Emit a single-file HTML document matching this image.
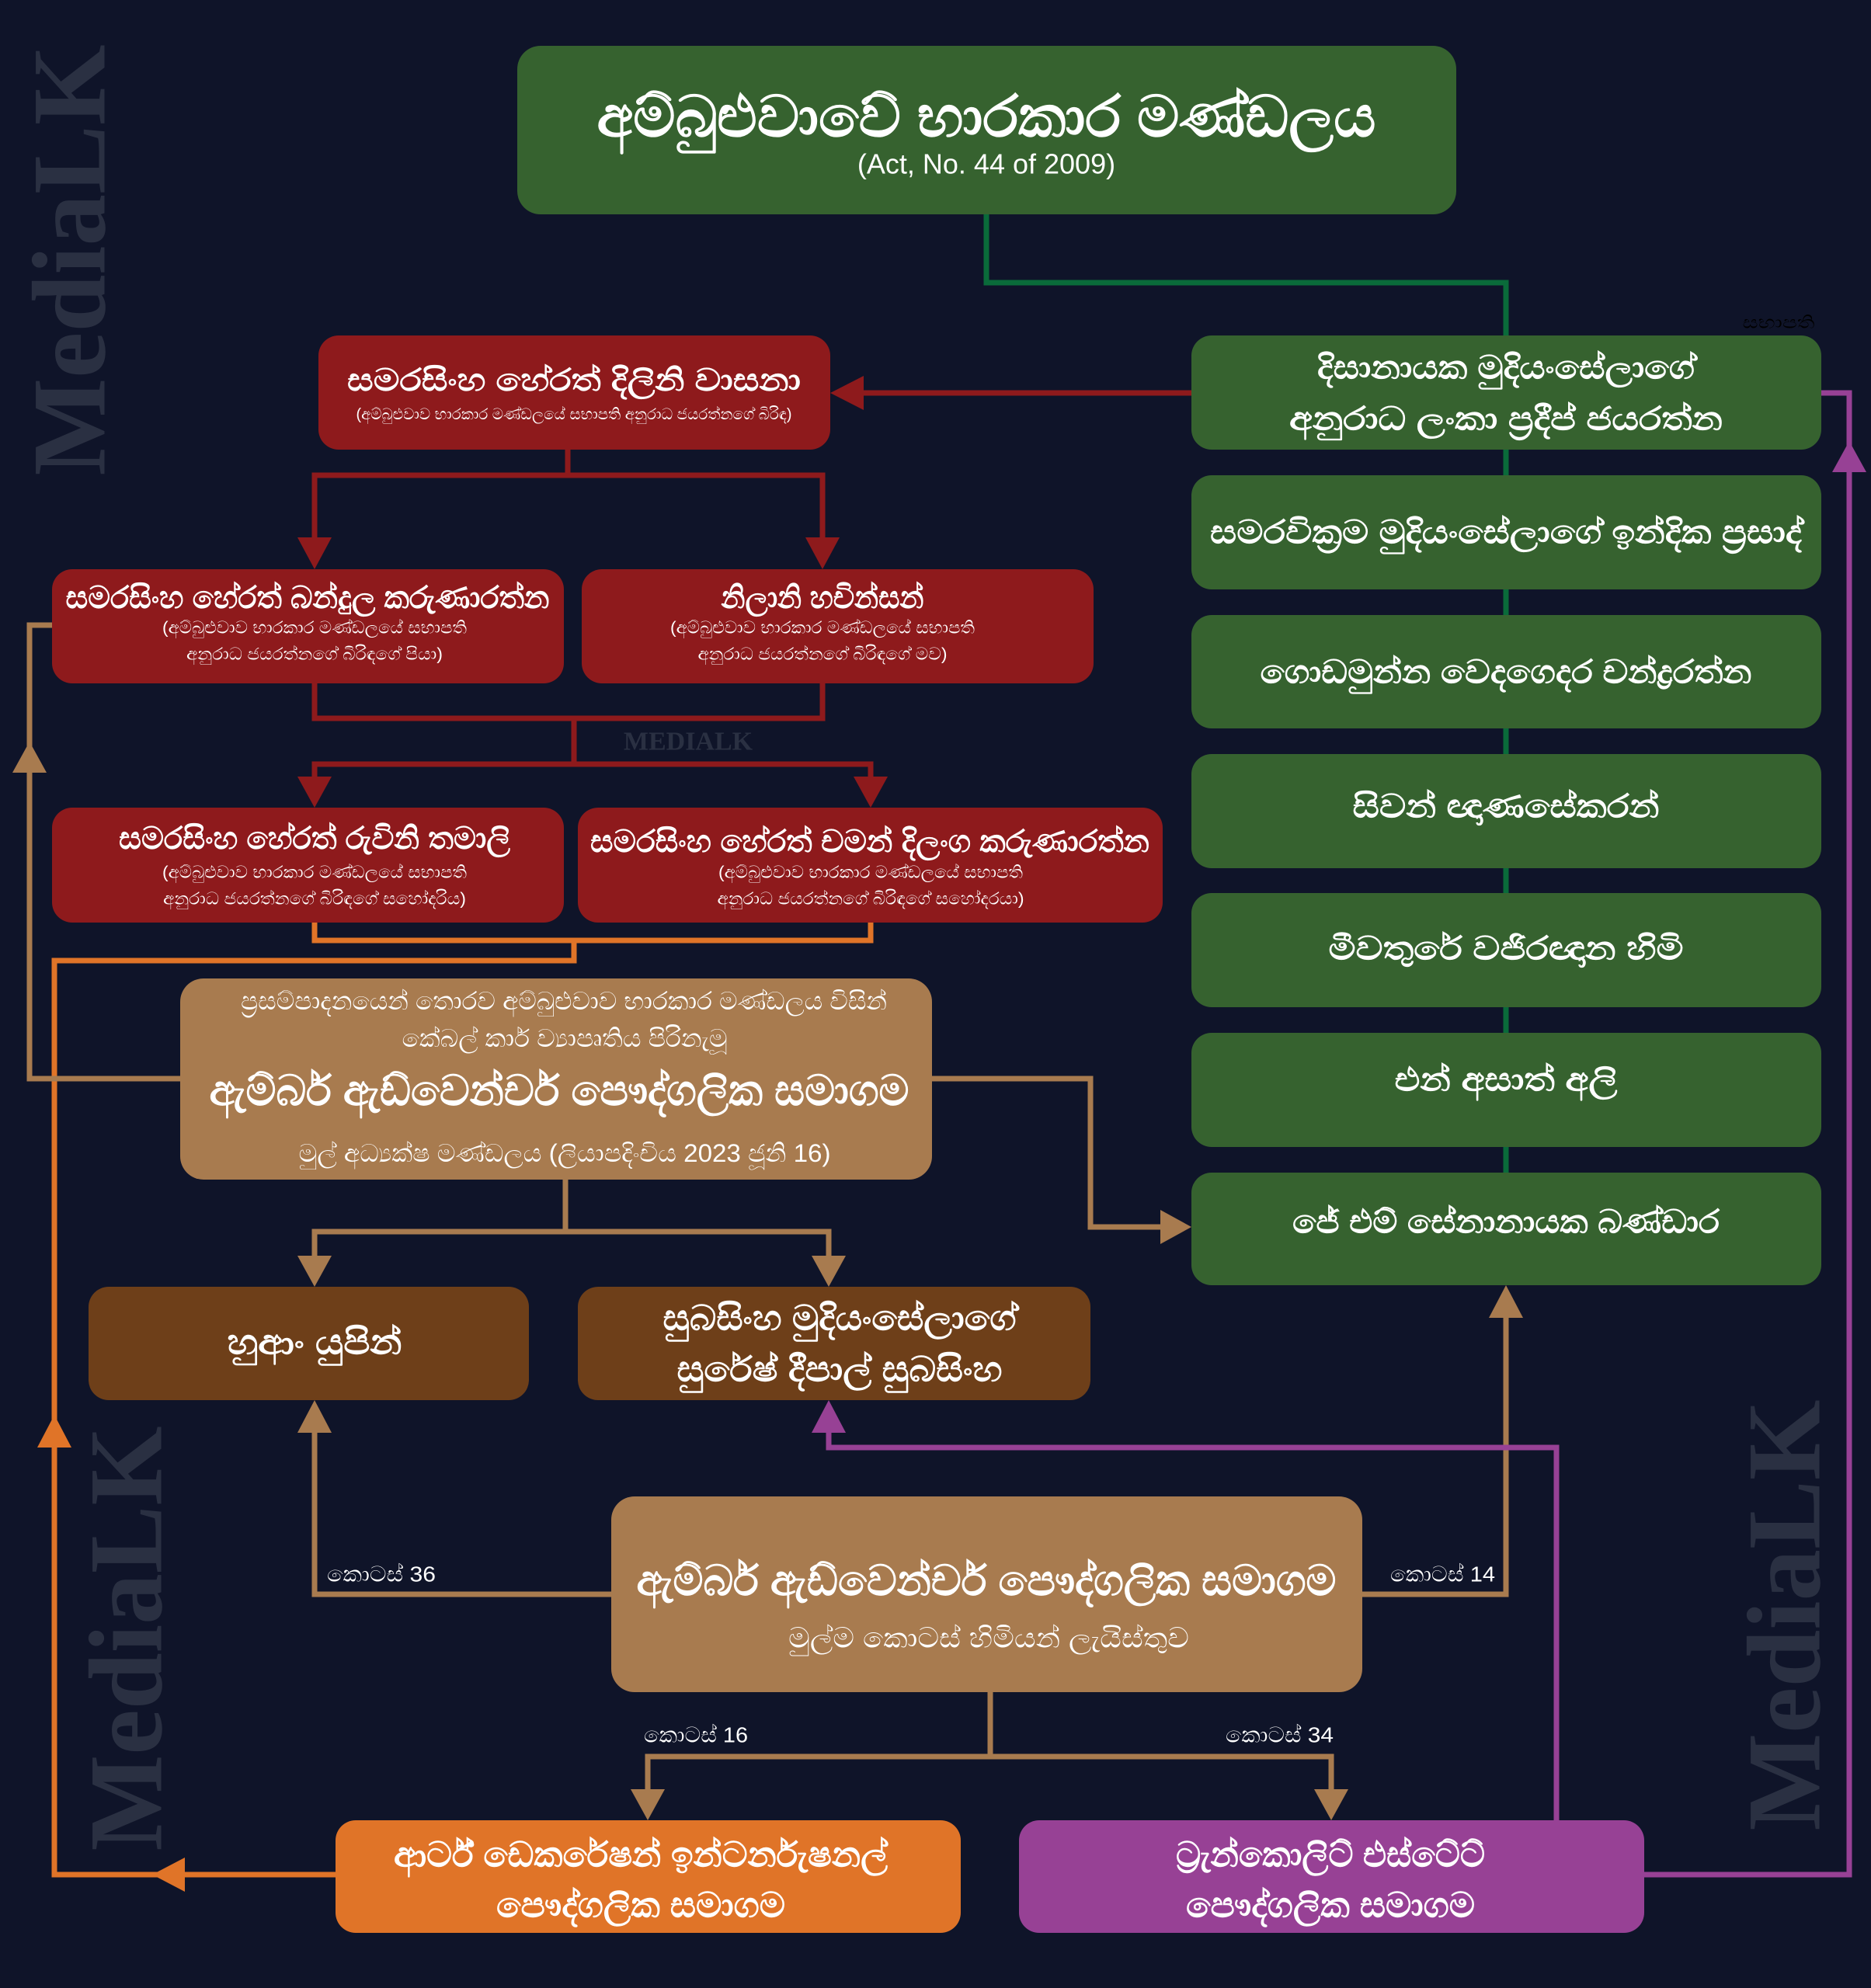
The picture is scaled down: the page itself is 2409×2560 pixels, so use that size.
<!DOCTYPE html>
<html><head><meta charset="utf-8"><style>
html,body{margin:0;padding:0;background:#0f1429;}
svg{display:block}
text{font-family:"Liberation Sans","DejaVu Sans",sans-serif;fill:#fff;text-anchor:middle;dominant-baseline:central}
.b{font-weight:bold}
.wm{font-family:"Liberation Serif",serif;font-weight:bold;fill:#2a3042;font-size:135px}
.lb{font-size:28px;text-anchor:start}
</style></head><body>
<svg width="2409" height="2560" viewBox="0 0 2409 2560" xmlns="http://www.w3.org/2000/svg">
<rect width="2409" height="2560" fill="#0f1429"/>
<!-- watermarks -->
<text class="wm" transform="translate(90,335) rotate(-90)" textLength="555" lengthAdjust="spacingAndGlyphs">MediaLK</text>
<text class="wm" transform="translate(163,2110) rotate(-90)" textLength="547" lengthAdjust="spacingAndGlyphs">MediaLK</text>
<text class="wm" transform="translate(2298,2080) rotate(-90)" textLength="555" lengthAdjust="spacingAndGlyphs">MediaLK</text>
<text x="886" y="955" style="font-family:'Liberation Serif',serif;font-weight:bold;fill:#2a3042;font-size:34px">MEDIALK</text>

<g fill="none" stroke-width="7">
<polyline stroke="#0a6b3a" points="1270,276 1270,364 1939,364 1939,1510"/>
<polyline stroke="#8e1a1c" points="1534,506 1090,506"/>
<polyline stroke="#8e1a1c" points="731,579 731,612 405,612 405,710"/>
<polyline stroke="#8e1a1c" points="731,612 1059,612 1059,710"/>
<polyline stroke="#8e1a1c" points="405,880 405,925 1059,925 1059,880"/>
<polyline stroke="#8e1a1c" points="739,925 739,984 405,984 405,1018"/>
<polyline stroke="#8e1a1c" points="739,984 1121,984 1121,1018"/>
<polyline stroke="#e07428" points="405,1188 405,1211 1121,1211 1121,1188"/>
<polyline stroke="#e07428" points="739,1211 739,1237 70,1237 70,2414 432,2414"/>
<polyline stroke="#a87b4f" points="232,1389 38,1389 38,805 67,805"/>
<polyline stroke="#a87b4f" points="1200,1389 1404,1389 1404,1580 1512,1580"/>
<polyline stroke="#a87b4f" points="728,1519 728,1586 405,1586 405,1635"/>
<polyline stroke="#a87b4f" points="728,1586 1067,1586 1067,1635"/>
<polyline stroke="#a87b4f" points="787,2053 405,2053 405,1825"/>
<polyline stroke="#a87b4f" points="1754,2053 1939,2053 1939,1678"/>
<polyline stroke="#a87b4f" points="1275,2179 1275,2262 834,2262 834,2322"/>
<polyline stroke="#a87b4f" points="1275,2262 1714,2262 1714,2322"/>
<polyline stroke="#974195" points="2004,2344 2004,1864 1067,1864 1067,1825"/>
<polyline stroke="#974195" points="2117,2414 2381,2414 2381,506 2345,506"/>
</g>
<g>
<polygon fill="#8e1a1c" points="1069,506 1112,484 1112,528"/>
<polygon fill="#8e1a1c" points="405,733 383,692 427,692"/>
<polygon fill="#8e1a1c" points="1059,733 1037,692 1081,692"/>
<polygon fill="#8e1a1c" points="405,1040 383,1000 427,1000"/>
<polygon fill="#8e1a1c" points="1121,1040 1099,1000 1143,1000"/>
<polygon fill="#e07428" points="70,1822 48,1864 92,1864"/>
<polygon fill="#e07428" points="196,2414 238,2392 238,2436"/>
<polygon fill="#a87b4f" points="38,955 16,995 60,995"/>
<polygon fill="#a87b4f" points="1534,1580 1494,1558 1494,1602"/>
<polygon fill="#a87b4f" points="405,1657 383,1617 427,1617"/>
<polygon fill="#a87b4f" points="1067,1657 1045,1617 1089,1617"/>
<polygon fill="#a87b4f" points="405,1803 383,1845 427,1845"/>
<polygon fill="#a87b4f" points="1939,1655 1917,1697 1961,1697"/>
<polygon fill="#a87b4f" points="834,2344 812,2304 856,2304"/>
<polygon fill="#a87b4f" points="1714,2344 1692,2304 1736,2304"/>
<polygon fill="#974195" points="1067,1803 1045,1845 1089,1845"/>
<polygon fill="#974195" points="2381,568 2359,608 2403,608"/>
</g>
<g>
<rect x="666" y="59" width="1209" height="217" rx="30" fill="#36622f"/>
<rect x="1534" y="432" width="811" height="147" rx="26" fill="#36622f"/>
<rect x="1534" y="612" width="811" height="147" rx="26" fill="#36622f"/>
<rect x="1534" y="792" width="811" height="146" rx="26" fill="#36622f"/>
<rect x="1534" y="971" width="811" height="147" rx="26" fill="#36622f"/>
<rect x="1534" y="1150" width="811" height="147" rx="26" fill="#36622f"/>
<rect x="1534" y="1330" width="811" height="147" rx="26" fill="#36622f"/>
<rect x="1534" y="1510" width="811" height="145" rx="26" fill="#36622f"/>
<rect x="410" y="432" width="659" height="147" rx="26" fill="#8e1a1c"/>
<rect x="67" y="733" width="659" height="147" rx="26" fill="#8e1a1c"/>
<rect x="749" y="733" width="659" height="147" rx="26" fill="#8e1a1c"/>
<rect x="67" y="1040" width="659" height="148" rx="26" fill="#8e1a1c"/>
<rect x="744" y="1040" width="753" height="148" rx="26" fill="#8e1a1c"/>
<rect x="232" y="1260" width="968" height="259" rx="30" fill="#a87b4f"/>
<rect x="114" y="1657" width="567" height="146" rx="26" fill="#6e3f19"/>
<rect x="744" y="1657" width="660" height="146" rx="26" fill="#6e3f19"/>
<rect x="787" y="1927" width="967" height="252" rx="30" fill="#a87b4f"/>
<rect x="432" y="2344" width="805" height="145" rx="26" fill="#e07428"/>
<rect x="1312" y="2344" width="805" height="145" rx="26" fill="#974195"/>
</g>
<text class="b" x="1270" y="150" font-size="74" textLength="1003" lengthAdjust="spacingAndGlyphs">අම්බුළුවාවේ භාරකාර මණ්ඩලය</text>
<text x="1270" y="211" font-size="36">(Act, No. 44 of 2009)</text>

<text class="b" x="1939" y="473" font-size="42" textLength="486" lengthAdjust="spacingAndGlyphs">දිසානායක මුදියංසේලාගේ</text>
<text class="b" x="1939" y="539" font-size="42" textLength="558" lengthAdjust="spacingAndGlyphs">අනුරාධ ලංකා ප්‍රදීප් ජයරත්න</text>
<text class="b" x="1939" y="685" font-size="42" textLength="762" lengthAdjust="spacingAndGlyphs">සමරවික්‍රම මුදියංසේලාගේ ඉන්දික ප්‍රසාද්</text>
<text class="b" x="1939" y="865" font-size="42" textLength="633" lengthAdjust="spacingAndGlyphs">ගොඩමුන්න වෙදගෙදර චන්ද්‍රරත්න</text>
<text class="b" x="1939" y="1038" font-size="42" textLength="395" lengthAdjust="spacingAndGlyphs">සිවන් ඥාණසේකරන්</text>
<text class="b" x="1939" y="1221" font-size="42" textLength="457" lengthAdjust="spacingAndGlyphs">මීවතුරේ වජිරඥාන හිමි</text>
<text class="b" x="1939" y="1390" font-size="42" textLength="287" lengthAdjust="spacingAndGlyphs">එන් අසාත් අලි</text>
<text class="b" x="1939" y="1573" font-size="42" textLength="550" lengthAdjust="spacingAndGlyphs">ජේ එම් සේනානායක බණ්ඩාර</text>
<text x="2290" y="415" font-size="22" style="fill:#000" textLength="93" lengthAdjust="spacingAndGlyphs">සභාපති</text>

<text class="b" x="739" y="490" font-size="40" textLength="584" lengthAdjust="spacingAndGlyphs">සමරසිංහ හේරත් දිලිනි වාසනා</text>
<text x="739" y="534" font-size="20" textLength="561" lengthAdjust="spacingAndGlyphs">(අම්බුළුවාව භාරකාර මණ්ඩලයේ සභාපති අනුරාධ ජයරත්නගේ බිරිඳ)</text>

<text class="b" x="396" y="770" font-size="40" textLength="623" lengthAdjust="spacingAndGlyphs">සමරසිංහ හේරත් බන්දුල කරුණාරත්න</text>
<text x="405" y="808" font-size="22" textLength="392" lengthAdjust="spacingAndGlyphs">(අම්බුළුවාව භාරකාර මණ්ඩලයේ සභාපති</text>
<text x="405" y="842" font-size="22" textLength="330" lengthAdjust="spacingAndGlyphs">අනුරාධ ජයරත්නගේ බිරිඳගේ පියා)</text>

<text class="b" x="1059" y="770" font-size="40" textLength="261" lengthAdjust="spacingAndGlyphs">නිලානි හචින්සන්</text>
<text x="1059" y="808" font-size="22" textLength="392" lengthAdjust="spacingAndGlyphs">(අම්බුළුවාව භාරකාර මණ්ඩලයේ සභාපති</text>
<text x="1059" y="842" font-size="22" textLength="321" lengthAdjust="spacingAndGlyphs">අනුරාධ ජයරත්නගේ බිරිඳගේ මව)</text>

<text class="b" x="405" y="1080" font-size="40" textLength="504" lengthAdjust="spacingAndGlyphs">සමරසිංහ හේරත් රුවිනි තමාලි</text>
<text x="405" y="1123" font-size="22" textLength="392" lengthAdjust="spacingAndGlyphs">(අම්බුළුවාව භාරකාර මණ්ඩලයේ සභාපති</text>
<text x="405" y="1157" font-size="22" textLength="390" lengthAdjust="spacingAndGlyphs">අනුරාධ ජයරත්නගේ බිරිඳගේ සහෝදරිය)</text>

<text class="b" x="1120" y="1084" font-size="40" textLength="720" lengthAdjust="spacingAndGlyphs">සමරසිංහ හේරත් චමන් දිලංග කරුණාරත්න</text>
<text x="1121" y="1123" font-size="22" textLength="392" lengthAdjust="spacingAndGlyphs">(අම්බුළුවාව භාරකාර මණ්ඩලයේ සභාපති</text>
<text x="1121" y="1157" font-size="22" textLength="395" lengthAdjust="spacingAndGlyphs">අනුරාධ ජයරත්නගේ බිරිඳගේ සහෝදරයා)</text>

<text x="726" y="1289" font-size="32" textLength="832" lengthAdjust="spacingAndGlyphs">ප්‍රසම්පාදනයෙන් තොරව අම්බුළුවාව භාරකාර මණ්ඩලය විසින්</text>
<text x="727" y="1337" font-size="32" textLength="419" lengthAdjust="spacingAndGlyphs">කේබල් කාර් ව්‍යාපෘතිය පිරිනැමූ</text>
<text class="b" x="720" y="1404" font-size="55" textLength="901" lengthAdjust="spacingAndGlyphs">ඇම්බර් ඇඩ්වෙන්චර් පෞද්ගලික සමාගම</text>
<text x="727" y="1485" font-size="32" textLength="685" lengthAdjust="spacingAndGlyphs">මුල් අධ්‍යක්ෂ මණ්ඩලය (ලියාපදිංචිය 2023 ජූනි 16)</text>

<text class="b" x="405" y="1728" font-size="45" textLength="225" lengthAdjust="spacingAndGlyphs">හුආං යුපින්</text>
<text class="b" x="1081" y="1697" font-size="45" textLength="455" lengthAdjust="spacingAndGlyphs">සුබසිංහ මුදියංසේලාගේ</text>
<text class="b" x="1081" y="1763" font-size="45" textLength="419" lengthAdjust="spacingAndGlyphs">සුරේෂ් දීපාල් සුබසිංහ</text>

<text class="b" x="1270" y="2035" font-size="55" textLength="901" lengthAdjust="spacingAndGlyphs">ඇම්බර් ඇඩ්වෙන්චර් පෞද්ගලික සමාගම</text>
<text x="1273" y="2109" font-size="36" textLength="516" lengthAdjust="spacingAndGlyphs">මුල්ම කොටස් හිමියන් ලැයිස්තුව</text>

<text class="b" x="825" y="2388" font-size="45" textLength="636" lengthAdjust="spacingAndGlyphs">ආර්ට් ඩෙකරේෂන් ඉන්ටර්නැෂනල්</text>
<text class="b" x="825" y="2453" font-size="45" textLength="372" lengthAdjust="spacingAndGlyphs">පෞද්ගලික සමාගම</text>
<text class="b" x="1713" y="2388" font-size="45" textLength="398" lengthAdjust="spacingAndGlyphs">ට්‍රැන්කොලිට් එස්ටේට්</text>
<text class="b" x="1713" y="2453" font-size="45" textLength="372" lengthAdjust="spacingAndGlyphs">පෞද්ගලික සමාගම</text>

<text class="lb" x="421" y="2027" textLength="140" lengthAdjust="spacingAndGlyphs">කොටස් 36</text>
<text class="lb" x="1790" y="2027" textLength="135" lengthAdjust="spacingAndGlyphs">කොටස් 14</text>
<text class="lb" x="829" y="2234" textLength="134" lengthAdjust="spacingAndGlyphs">කොටස් 16</text>
<text class="lb" x="1578" y="2234" textLength="139" lengthAdjust="spacingAndGlyphs">කොටස් 34</text>
</svg>
</body></html>
